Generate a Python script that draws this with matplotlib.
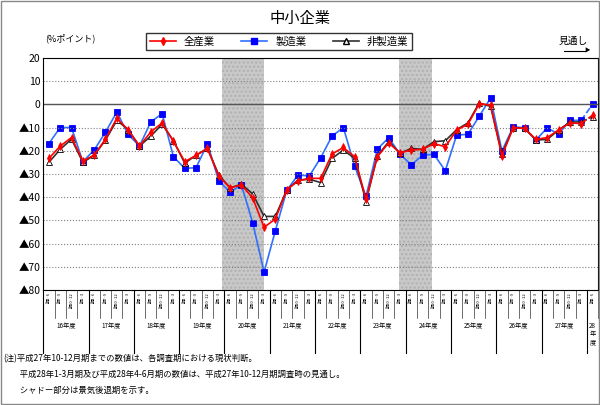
import matplotlib.pyplot as plt
import numpy as np

plt.rcParams['font.family'] = ['Noto Sans CJK JP', 'DejaVu Sans']

all_ind = [-23.3, -18, -14.3, -24.4, -21.9, -15, -6, -11, -18, -11.9, -8, -16, -24.7, -22, -19,
           -30.9, -36, -34.7, -40.4, -53, -49.4, -36.9, -33, -31.9, -31.9,
           -21.4, -18.6, -22.6, -41, -22.6, -16.6, -20.9, -19.7, -19.4, -16.9, -18.3, -11.1, -8.6,
           0.3, -0.4, -22.3, -10, -10.4, -15.1, -14.3, -11.1, -8, -8.3, -4.7]
mfg = [-16.9, -10, -10, -24.7, -19.7, -12, -3.3, -13, -18, -7.6, -4, -22.6, -27.6, -27.3, -17,
       -32.9, -37.9, -34.7, -51.1, -72.3, -54.4, -37.1, -30.4, -30.9, -23,
       -13.7, -10, -26.6, -39.7, -19.3, -14.4, -21.4, -26.1, -21.9, -21.6, -28.6, -13.3, -12.9,
       -5.1, 2.7, -20.1, -9.7, -10.1, -15.4, -10.1, -12.9, -6.9, -6.9, 0]
non_mfg = [-25, -19.4, -15, -25, -22, -15.4, -6.9, -10.9, -18, -13.7, -8.6, -15.7, -25.4, -21.9, -19,
           -30.4, -36, -34.4, -38.6, -48.3, -48.3, -36.9, -32.6, -32.3, -33.7,
           -23.3, -19.7, -23.3, -41.9, -22.3, -16.1, -21.1, -19, -19.4, -16.1, -15.7, -10.9, -8,
           0.6, -0.9, -21.4, -10, -10.4, -15.4, -15.1, -11.1, -7.6, -7.6, -5.4]
quarters = ['期4~6', '期7~9', '期10~12', '期1~3']
years = ['16年度', '17年度', '18年度', '19年度', '20年度', '21年度', '22年度', '23年度',
         '24年度', '25年度', '26年度', '27年度', '28\n年\n度']
shades = [(15.3, 19.0), (30.9, 33.8)]

n = len(all_ind)
x = np.arange(n)

fig = plt.figure(figsize=(6, 4.05), dpi=100)
ax = fig.add_axes([0.072, 0.284, 0.925, 0.573])
ax.set_xlim(-0.5, n - 0.5)
ax.set_ylim(-80, 20)

for a, b in shades:
    ax.axvspan(a, b, color='#c8c8c8', zorder=0, hatch='....', ec='#b0b0b0', lw=0)

yt = np.arange(-80, 21, 10)
ax.set_yticks(yt)
ax.set_yticklabels([('▲%d' % -v) if v < 0 else str(v) for v in yt], fontsize=7.5)
ax.yaxis.grid(True, ls=':', color='#808080', lw=0.8)
ax.axhline(0, color='#555555', lw=1)
ax.set_xticks(x)
ax.set_xticklabels([])
ax.tick_params(axis='x', length=0)
ax.tick_params(axis='y', length=0, pad=2)

series = [(all_ind, 'red', 'd', '全産業', 3),
          (mfg, '#3070ff', 's', '製造業', 1),
          (non_mfg, '#303030', '^', '非製造業', 2)]
handles = []
for vals, c, m, lab, z in series:
    mfc = 'white' if m == '^' else ('blue' if m == 's' else 'red')
    ax.plot(x[:-1], vals[:-1], color=c, lw=1.2, zorder=z)
    ax.plot(x[-2:], vals[-2:], color=c, lw=1.2, ls='--', zorder=z)
    ax.plot(x, vals, ls='none', marker=m, ms=4, color=mfc, mec='black' if m == '^' else mfc,
            mew=0.6, zorder=z + 0.5)
    handles.append(ax.plot([], [], color=c, marker=m, ms=4, mfc=mfc,
                           mec='black' if m == '^' else mfc, lw=1.2, label=lab)[0])

fig.legend(handles=handles, loc='center', bbox_to_anchor=(0.465, 0.898), ncol=3,
           fontsize=7.5, frameon=True, fancybox=False, edgecolor='black',
           handlelength=2.5, columnspacing=2.5, borderpad=0.3)

# category labels below plot
for i in range(n):
    ax.text(i, -81, quarters[i % 4], rotation=90, fontsize=3, ha='center', va='top',
            clip_on=False)
    ax.plot([i + 0.5, i + 0.5], [-80, -92], color='#333333', lw=0.5, clip_on=False)
for k, y in enumerate(years):
    if k < 12:
        ax.text(4 * k + 1.5, -95.5, y, fontsize=4.5, ha='center', va='center', clip_on=False)
        ax.plot([4 * k + 3.5] * 2, [-80, -107], color='black', lw=0.8, clip_on=False)
    else:
        ax.text(48, -99, y, fontsize=4.5, ha='center', va='center', clip_on=False,
                linespacing=1.0)
ax.plot([-0.5] * 2, [-80, -107], color='black', lw=0.8, clip_on=False)

fig.text(0.5, 0.955, '中小企業', fontsize=11, ha='center', va='center')
fig.text(0.075, 0.905, '(%ポイント)', fontsize=6.5, ha='left', va='center')
fig.text(0.955, 0.9, '見通し', fontsize=7, ha='center', va='center')
fig.add_artist(plt.Line2D([0.94, 0.975], [0.875, 0.875], color='black', lw=0.8))
fig.text(0.978, 0.875, '▶', fontsize=4, ha='center', va='center')

notes = ['(注)平成27年10-12月期までの数値は、各調査期における現状判断。',
         '　　平成28年1-3月期及び平成28年4-6月期の数値は、平成27年10-12月期調査時の見通し。',
         '　　シャドー部分は景気後退期を示す。']
for k, t in enumerate(notes):
    fig.text(0.005, 0.115 - k * 0.04, t, fontsize=6, ha='left', va='center')

fig.add_artist(plt.Rectangle((0.002, 0.002), 0.996, 0.996, fill=False, lw=1, ec='#888888',
                             transform=fig.transFigure))
fig.savefig('out.png')
